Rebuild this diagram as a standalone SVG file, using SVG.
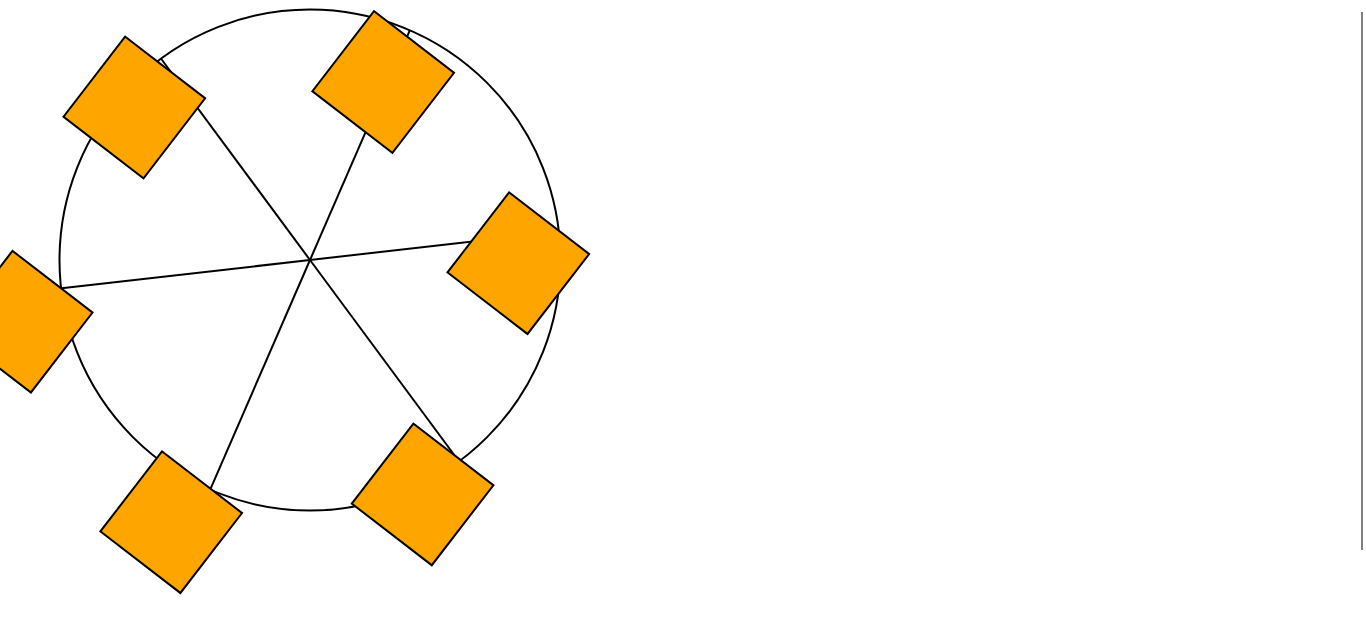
<svg xmlns="http://www.w3.org/2000/svg" width="1366" height="635" viewBox="0 0 1366 635">
<style>
.ring{fill:none;stroke:#000;stroke-width:2}
.spoke{stroke:#000;stroke-width:2;fill:none}
.node rect{fill:#FFA500;stroke:#000;stroke-width:2}
</style>
<rect width="1366" height="635" fill="#fff"/>
<circle class="ring" cx="310" cy="260" r="250.5"/>
<g id="connectors">
<line class="spoke" x1="310" y1="260" x2="161.3" y2="59"/>
<line class="spoke" x1="310" y1="260" x2="409.7" y2="30.7"/>
<line class="spoke" x1="310" y1="260" x2="558.4" y2="231.7"/>
<line class="spoke" x1="310" y1="260" x2="61.6" y2="288.3"/>
<line class="spoke" x1="310" y1="260" x2="210.3" y2="489.3"/>
<line class="spoke" x1="310" y1="260" x2="458.7" y2="461"/>
</g>
<g id="node1" class="node" transform="translate(134.3 107.5) rotate(37.6)"><rect x="-50.5" y="-50.5" width="101" height="101"/></g>
<g id="node2" class="node" transform="translate(383.2 82) rotate(37.6)"><rect x="-50.5" y="-50.5" width="101" height="101"/></g>
<g id="node3" class="node" transform="translate(518.3 263.2) rotate(37.6)"><rect x="-50.5" y="-50.5" width="101" height="101"/></g>
<g id="node4" class="node" transform="translate(21.7 321.7) rotate(37.6)"><rect x="-50.5" y="-50.5" width="101" height="101"/></g>
<g id="node5" class="node" transform="translate(171.2 522.2) rotate(37.6)"><rect x="-50.5" y="-50.5" width="101" height="101"/></g>
<g id="node6" class="node" transform="translate(422.6 494.4) rotate(37.6)"><rect x="-50.5" y="-50.5" width="101" height="101"/></g>
<line x1="1362" y1="12" x2="1362" y2="550" stroke="#808080" stroke-width="2"/>
</svg>
